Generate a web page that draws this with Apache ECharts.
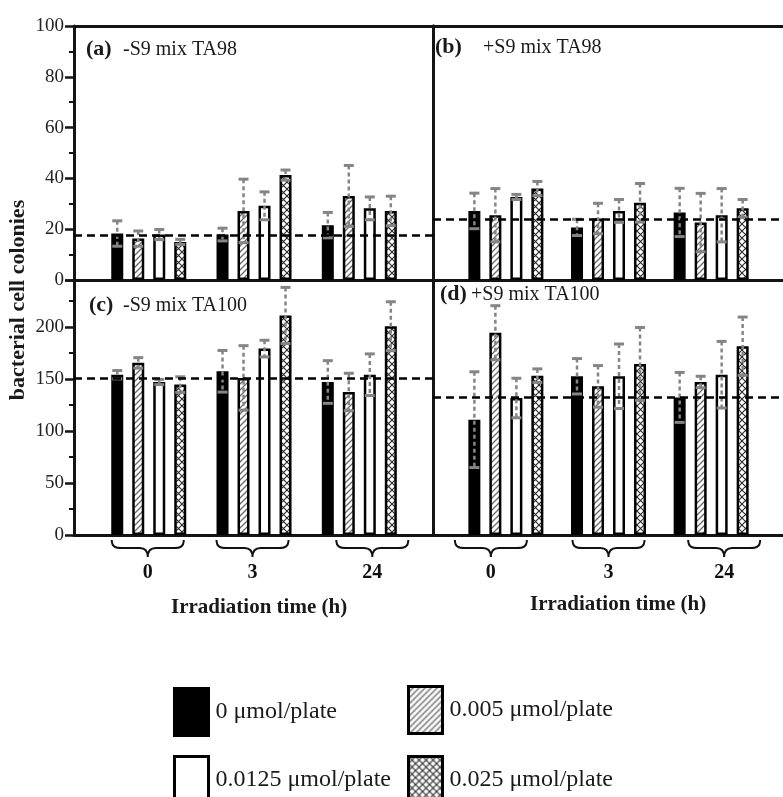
<!DOCTYPE html>
<html><head><meta charset="utf-8">
<script src="https://cdn.jsdelivr.net/npm/echarts@6/dist/echarts.min.js"></script>
<style>html,body{margin:0;padding:0;background:#fff}#c{width:783px;height:797px}</style>
</head><body><div id="c"></div>
<script>
// ---------- DATA ----------
const timeLabels = ['0', '3', '24'];               // irradiation time (h)
const doseNames = ['0 μmol/plate', '0.005 μmol/plate', '0.0125 μmol/plate', '0.025 μmol/plate'];

// (a) -S9 mix TA98 : rows = dose, columns = time
const meanA = [[18.3, 17.9, 21.6], [16.3, 27.2, 33.1], [17.9, 29.2, 28.2], [15.0, 41.3, 27.2]];
const sdA   = [[5, 2.5, 5], [3, 12.5, 12], [2, 5.5, 4.5], [1, 2, 5.8]];
const ctrlA = 17.7;
// (b) +S9 mix TA98
const meanB = [[27.2, 20.7, 26.6], [25.5, 24.2, 22.6], [32.7, 27.2, 25.5], [36.0, 30.4, 28.2]];
const sdB   = [[7, 3.2, 9.5], [10.5, 6, 11.5], [1, 4.5, 10.5], [2.8, 7.6, 3.5]];
const ctrlB = 24;
// (c) -S9 mix TA100
const meanC = [[154, 157.3, 147], [165.4, 150.9, 137.4], [147, 179.1, 154], [144.5, 210.9, 200.6]];
const sdC   = [[4, 20, 20.5], [5, 31, 18], [2.5, 8, 20], [7.5, 27, 23.5]];
const ctrlC = 151;
// (d) +S9 mix TA100
const meanD = [[110.8, 152.5, 132.2], [194.3, 142.8, 147], [131.6, 152.5, 154], [153.1, 164.4, 181.4]];
const sdD   = [[46, 17, 24], [26, 20, 5.5], [19, 31, 32], [6.5, 35, 28]];
const ctrlD = 132;

const ticksTop = [0, 100, 20];      // min, max, interval (TA98 panels)
const ticksBottom = [0, 245, 50];   // min, max, interval (TA100 panels)

// ---------- STYLE ----------
const INK = '#141414', ERR = '#858585', FONT = '"Liberation Serif", "DejaVu Serif", serif';
const BAR_W = 12, STEP = 21;
function hatch() {
  const c = document.createElement('canvas'); c.width = 6; c.height = 6;
  const g = c.getContext('2d');
  g.fillStyle = '#fff'; g.fillRect(0, 0, 6, 6);
  g.strokeStyle = '#6a6a6a'; g.lineWidth = 1.3;
  g.beginPath();
  g.moveTo(0, 6); g.lineTo(6, 0);
  g.moveTo(-3, 3); g.lineTo(3, -3);
  g.moveTo(3, 9); g.lineTo(9, 3);
  g.stroke();
  return { image: c, repeat: 'repeat' };
}
function cross() {
  const c = document.createElement('canvas'); c.width = 7; c.height = 7;
  const g = c.getContext('2d');
  g.fillStyle = '#fff'; g.fillRect(0, 0, 7, 7);
  g.strokeStyle = '#2a2a2a'; g.lineWidth = 1.1;
  g.beginPath();
  g.moveTo(0, 0); g.lineTo(7, 7);
  g.moveTo(0, 7); g.lineTo(7, 0);
  g.stroke();
  return { image: c, repeat: 'repeat' };
}
const fills = ['#000', hatch(), '#fff', cross()];

const panels = [
  { mean: meanA, sd: sdA, ctrl: ctrlA, ticks: ticksTop },
  { mean: meanB, sd: sdB, ctrl: ctrlB, ticks: ticksTop },
  { mean: meanC, sd: sdC, ctrl: ctrlC, ticks: ticksBottom },
  { mean: meanD, sd: sdD, ctrl: ctrlD, ticks: ticksBottom }
];
const gridBoxes = [
  { left: 74, top: 26, width: 359, height: 254 },
  { left: 433, top: 26, width: 360, height: 254 },
  { left: 74, top: 280, width: 359, height: 255 },
  { left: 433, top: 280, width: 360, height: 255 }
];
const X_MIN = -0.71, X_MAX = 2.70;
const braceShift = { 2: [-1, -1.5, 13], 3: [-15, 0, 13] };
const legendPos = [[173, 687], [407, 685], [173, 755], [407, 755]];

const lineStyle = { color: INK, width: 3 };
function xAxis(gi, pos) {
  return {
    gridIndex: gi, type: 'value', position: pos, min: X_MIN, max: X_MAX,
    axisLine: { show: true, onZero: false, lineStyle },
    axisTick: { show: false }, axisLabel: { show: false }, splitLine: { show: false }
  };
}
function yAxis(gi, labeled, pos) {
  const t = panels[gi] ? panels[gi].ticks : [0, 1, 1];
  return {
    gridIndex: gi, type: 'value', position: pos || 'left',
    min: t[0], max: t[1], interval: t[2],
    axisLine: { show: true, onZero: false, lineStyle },
    axisTick: { show: labeled, length: 9, lineStyle: { color: INK, width: 2.5 } },
    minorTick: { show: labeled, splitNumber: 2, length: 5, lineStyle: { color: INK, width: 2 } },
    axisLabel: { show: labeled, margin: 10, fontSize: 19, fontFamily: FONT, color: '#222', showMaxLabel: t[1] % t[2] === 0 },
    splitLine: { show: false }
  };
}

const series = [];
panels.forEach((p, gi) => {
  p.mean.forEach((arr, k) => {
    const s = {
      type: 'bar', name: doseNames[k], xAxisIndex: gi, yAxisIndex: gi,
      data: arr.map((v, i) => [i, v]),
      barWidth: BAR_W, barGap: ((STEP - BAR_W) / BAR_W * 100) + '%',
      itemStyle: { color: fills[k], borderColor: '#000', borderWidth: 2.5 },
      z: 2, silent: true
    };
    if (k === 0) {
      s.markLine = {
        silent: true, symbol: ['none', 'none'], label: { show: false },
        lineStyle: { color: '#000', width: 2.5, type: [8, 5] },
        data: [{ yAxis: p.ctrl }]
      };
    }
    series.push(s);
  });
  const rows = [];
  p.mean.forEach((arr, k) => arr.forEach((v, i) => rows.push([i, k, v, p.sd[k][i]])));
  series.push({
    type: 'custom', xAxisIndex: gi, yAxisIndex: gi, z: 4, silent: true,
    encode: { x: 0, y: 2 }, data: rows,
    renderItem: function (params, api) {
      const i = api.value(0), k = api.value(1), m = api.value(2), s = api.value(3);
      const hi = api.coord([i, m + s]), lo = api.coord([i, Math.max(0, m - s)]);
      const cx = hi[0] + (k - 1.5) * STEP;
      return {
        type: 'group', children: [
          { type: 'line', shape: { x1: cx, y1: hi[1], x2: cx, y2: lo[1] }, style: { stroke: ERR, lineWidth: 2.5, lineDash: [4, 3] } },
          { type: 'line', shape: { x1: cx - 5, y1: hi[1], x2: cx + 5, y2: hi[1] }, style: { stroke: ERR, lineWidth: 3 } },
          { type: 'line', shape: { x1: cx - 5, y1: lo[1], x2: cx + 5, y2: lo[1] }, style: { stroke: ERR, lineWidth: 3 } }
        ]
      };
    }
  });
});
// braces + time labels under bottom panels
const BRACE = 'M0,0 C0,7 4,8 10,8 L28,8 C33,8 36,10 36,17 C36,10 39,8 44,8 L62,8 C68,8 72,7 72,0';
[2, 3].forEach(gi => {
  series.push({
    type: 'custom', xAxisIndex: gi, yAxisIndex: gi, clip: false, silent: true, z: 3,
    encode: { x: 0, y: 1 },
    data: timeLabels.map((t, i) => [i, 0]),
    renderItem: function (params, api) {
      const p = api.coord([api.value(0), 0]);
      const cx = p[0] + braceShift[gi][params.dataIndex];
      return {
        type: 'group', children: [
          { type: 'path', shape: { pathData: BRACE, x: cx - 36, y: p[1] + 5, width: 72, height: 17 },
            style: { fill: 'none', stroke: '#111', lineWidth: 2 } },
          { type: 'text', x: cx, y: p[1] + 38,
            style: { text: timeLabels[params.dataIndex], fill: '#111', font: 'bold 20px ' + FONT,
              textAlign: 'center', textVerticalAlign: 'middle', align: 'center', verticalAlign: 'middle' } }
        ]
      };
    }
  });
});

function title(text, left, top, bold, size) {
  return { text, left, top, padding: 0,
    textStyle: { fontFamily: FONT, fontWeight: bold ? 'bold' : 'normal', fontSize: size, color: '#1a1a1a' } };
}

const legends = doseNames.map((name, k) => ({
  left: legendPos[k][0], top: legendPos[k][1],
  orient: 'horizontal', icon: 'rect', itemWidth: 34, itemHeight: 47, padding: 0,
  selectedMode: false, data: [name],
  textStyle: { fontFamily: FONT, fontSize: 24, color: '#1a1a1a', padding: [0, 0, 0, 2] },
  itemStyle: { borderColor: '#000', borderWidth: 3 }
}));

const option = {
  animation: false,
  backgroundColor: '#fff',
  grid: gridBoxes.map(b => Object.assign({ containLabel: false }, b)),
  xAxis: [xAxis(0, 'bottom'), xAxis(1, 'bottom'), xAxis(2, 'bottom'), xAxis(3, 'bottom'), xAxis(0, 'top'), xAxis(1, 'top')],
  yAxis: [yAxis(0, true), yAxis(1, false), yAxis(2, true), yAxis(3, false),
          Object.assign(yAxis(0, false, 'right'), { min: 0, max: 1, interval: 1 }),
          Object.assign(yAxis(2, false, 'right'), { min: 0, max: 1, interval: 1 })],
  title: [
    title('(a)', 86, 38, true, 22), title('-S9 mix TA98', 123, 40, false, 20),
    title('(b)', 435, 36, true, 22), title('+S9 mix TA98', 483, 38, false, 20),
    title('(c)', 89, 294, true, 22), title('-S9 mix TA100', 123, 296, false, 20),
    title('(d)', 440, 283, true, 22), title('+S9 mix TA100', 471, 285, false, 20),
    title('Irradiation time (h)', 171, 597, true, 21),
    title('Irradiation time (h)', 530, 594, true, 21)
  ],
  legend: legends,
  graphic: [{
    type: 'text', x: 18, y: 300, rotation: Math.PI / 2,
    style: { text: 'bacterial cell colonies', fill: '#1a1a1a', font: 'bold 22px ' + FONT,
      textAlign: 'center', textVerticalAlign: 'middle', align: 'center', verticalAlign: 'middle' }
  }],
  series
};
const chart = echarts.init(document.getElementById('c'), null, { renderer: 'canvas' });
chart.setOption(option);
</script>
</body></html>
